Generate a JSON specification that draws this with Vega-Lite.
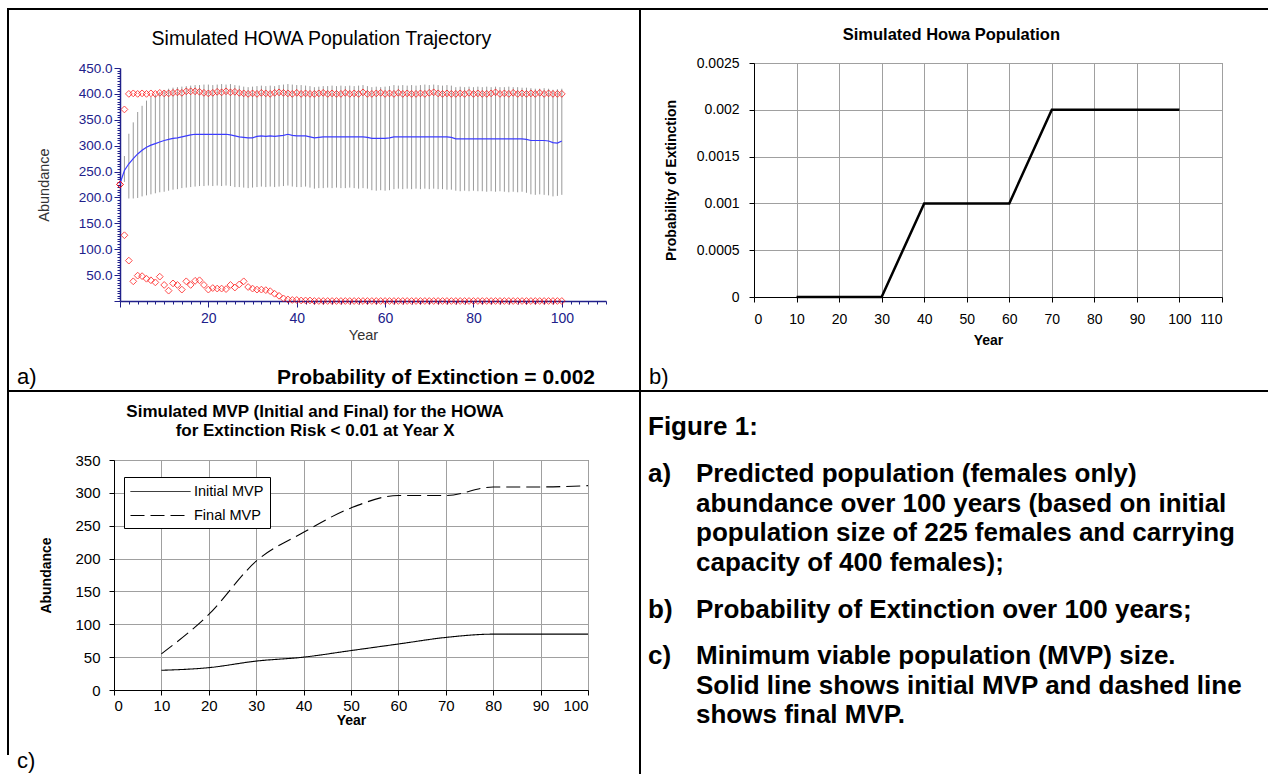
{
"$schema": "https://vega.github.io/schema/vega-lite/v6.json",
"padding": 0,
"background": "white",
"spacing": 0,
"bounds": "full",
"config": {"view": {"stroke": null}, "font": "Liberation Sans", "concat": {"spacing": 0}},
"vconcat": [
{"hconcat": [
{"columns": 5, "align": "each", "bounds": "flush", "spacing": 0, "concat": [
{"width":7,"height":8,"data":{"values":[]},"mark":"point"},
{"width":2,"height":8,"data":{"values":[]},"mark":"point"},
{"width":111,"height":8,"data":{"values":[]},"mark":"point"},
{"width":486,"height":8,"data":{"values":[]},"mark":"point"},
{"width":33,"height":8,"data":{"values":[]},"mark":"point"},

{"width":7,"height":2,"data":{"values":[]},"mark":"point"},
{"width":2,"height":2,"data":{"values":[]},"mark":"point","view":{"fill":"black","stroke":null}},
{"width":111,"height":2,"data":{"values":[]},"mark":"point","view":{"fill":"black","stroke":null}},
{"width":486,"height":2,"data":{"values":[]},"mark":"point","view":{"fill":"black","stroke":null}},
{"width":33,"height":2,"data":{"values":[]},"mark":"point","view":{"fill":"black","stroke":null}},

{"width":7,"height":58,"data":{"values":[]},"mark":"point"},
{"width":2,"height":58,"data":{"values":[]},"mark":"point","view":{"fill":"black","stroke":null}},
{"width":111,"height":58,"data":{"values":[]},"mark":"point"},
{"width":486,"height":58,"data":{"values":[]},"mark":"point"},
{"width":33,"height":58,"data":{"values":[]},"mark":"point"},

{"width":7,"height":233,"data":{"values":[]},"mark":"point"},
{"width":2,"height":233,"data":{"values":[]},"mark":"point","view":{"fill":"black","stroke":null}},
{"width":111,"height":233,"data":{"values":[]},"mark":"point"},
{
 "width": 486, "height": 233,
 "title": {"text": "Simulated HOWA Population Trajectory", "font": "Liberation Sans", "fontSize": 19.5, "fontWeight": "normal", "color": "black", "frame": "bounds", "anchor": "middle", "offset": 12},
 "data": {"values": [
 {"year":0,"mean":227,"lo":225,"hi":225,"min":225,"max":225},
 {"year":1,"mean":252,"lo":230,"hi":280,"min":127,"max":370},
 {"year":2,"mean":265,"lo":198,"hi":323,"min":78,"max":400},
 {"year":3,"mean":275,"lo":198,"hi":345,"min":38,"max":401},
 {"year":4,"mean":284,"lo":199,"hi":365,"min":49,"max":400},
 {"year":5,"mean":291,"lo":202,"hi":377,"min":48,"max":401},
 {"year":6,"mean":297,"lo":204,"hi":387,"min":43,"max":400},
 {"year":7,"mean":301,"lo":206,"hi":394,"min":40,"max":401},
 {"year":8,"mean":304,"lo":208,"hi":399,"min":36,"max":400},
 {"year":9,"mean":307,"lo":210,"hi":404,"min":47,"max":402},
 {"year":10,"mean":310,"lo":211,"hi":407,"min":31,"max":401},
 {"year":11,"mean":312,"lo":213,"hi":410,"min":20,"max":401},
 {"year":12,"mean":314,"lo":215,"hi":412,"min":34,"max":402},
 {"year":13,"mean":315,"lo":216,"hi":413,"min":31,"max":403},
 {"year":14,"mean":317,"lo":218,"hi":414,"min":22,"max":402},
 {"year":15,"mean":319,"lo":219,"hi":415,"min":38,"max":405},
 {"year":16,"mean":321,"lo":220,"hi":416,"min":31,"max":405},
 {"year":17,"mean":322,"lo":221,"hi":417,"min":39,"max":405},
 {"year":18,"mean":322,"lo":222,"hi":417,"min":40,"max":404},
 {"year":19,"mean":322,"lo":222,"hi":418,"min":31,"max":402},
 {"year":20,"mean":322,"lo":223,"hi":418,"min":22,"max":401},
 {"year":21,"mean":322,"lo":222,"hi":417,"min":25,"max":402},
 {"year":22,"mean":322,"lo":223,"hi":418,"min":24,"max":404},
 {"year":23,"mean":322,"lo":222,"hi":419,"min":24,"max":403},
 {"year":24,"mean":322,"lo":223,"hi":418,"min":23,"max":405},
 {"year":25,"mean":321,"lo":222,"hi":419,"min":31,"max":403},
 {"year":26,"mean":319,"lo":220,"hi":417,"min":26,"max":404},
 {"year":27,"mean":317,"lo":220,"hi":416,"min":32,"max":402},
 {"year":28,"mean":316,"lo":219,"hi":414,"min":38,"max":401},
 {"year":29,"mean":315,"lo":218,"hi":413,"min":27,"max":400},
 {"year":30,"mean":315,"lo":219,"hi":414,"min":24,"max":401},
 {"year":31,"mean":318,"lo":220,"hi":415,"min":22,"max":400},
 {"year":32,"mean":319,"lo":221,"hi":416,"min":22,"max":402},
 {"year":33,"mean":318,"lo":220,"hi":415,"min":21,"max":401},
 {"year":34,"mean":319,"lo":221,"hi":416,"min":19,"max":400},
 {"year":35,"mean":318,"lo":220,"hi":415,"min":14,"max":402},
 {"year":36,"mean":319,"lo":221,"hi":417,"min":10,"max":403},
 {"year":37,"mean":320,"lo":222,"hi":418,"min":5,"max":402},
 {"year":38,"mean":322,"lo":223,"hi":419,"min":3,"max":401},
 {"year":39,"mean":320,"lo":221,"hi":418,"min":2,"max":400},
 {"year":40,"mean":319,"lo":220,"hi":417,"min":2,"max":402},
 {"year":41,"mean":319,"lo":220,"hi":417,"min":1,"max":400},
 {"year":42,"mean":319,"lo":221,"hi":416,"min":1,"max":401},
 {"year":43,"mean":317,"lo":219,"hi":415,"min":1,"max":400},
 {"year":44,"mean":315,"lo":217,"hi":413,"min":0,"max":400},
 {"year":45,"mean":316,"lo":218,"hi":414,"min":0,"max":401},
 {"year":46,"mean":317,"lo":218,"hi":415,"min":0,"max":402},
 {"year":47,"mean":317,"lo":219,"hi":415,"min":0,"max":400},
 {"year":48,"mean":317,"lo":218,"hi":416,"min":0,"max":401},
 {"year":49,"mean":317,"lo":219,"hi":415,"min":0,"max":400},
 {"year":50,"mean":317,"lo":218,"hi":416,"min":0,"max":400},
 {"year":51,"mean":317,"lo":218,"hi":415,"min":0,"max":402},
 {"year":52,"mean":317,"lo":219,"hi":416,"min":0,"max":400},
 {"year":53,"mean":317,"lo":218,"hi":415,"min":0,"max":401},
 {"year":54,"mean":317,"lo":217,"hi":416,"min":0,"max":400},
 {"year":55,"mean":317,"lo":218,"hi":417,"min":0,"max":403},
 {"year":56,"mean":316,"lo":217,"hi":415,"min":0,"max":400},
 {"year":57,"mean":314,"lo":214,"hi":413,"min":0,"max":400},
 {"year":58,"mean":314,"lo":213,"hi":414,"min":0,"max":401},
 {"year":59,"mean":314,"lo":214,"hi":413,"min":0,"max":402},
 {"year":60,"mean":314,"lo":213,"hi":414,"min":0,"max":400},
 {"year":61,"mean":315,"lo":214,"hi":415,"min":0,"max":401},
 {"year":62,"mean":317,"lo":216,"hi":417,"min":0,"max":400},
 {"year":63,"mean":317,"lo":217,"hi":416,"min":0,"max":402},
 {"year":64,"mean":317,"lo":216,"hi":417,"min":0,"max":400},
 {"year":65,"mean":317,"lo":217,"hi":416,"min":0,"max":401},
 {"year":66,"mean":317,"lo":216,"hi":417,"min":0,"max":400},
 {"year":67,"mean":317,"lo":217,"hi":416,"min":0,"max":400},
 {"year":68,"mean":317,"lo":216,"hi":417,"min":0,"max":401},
 {"year":69,"mean":317,"lo":217,"hi":418,"min":0,"max":400},
 {"year":70,"mean":317,"lo":216,"hi":417,"min":0,"max":402},
 {"year":71,"mean":317,"lo":217,"hi":418,"min":0,"max":403},
 {"year":72,"mean":317,"lo":216,"hi":417,"min":0,"max":401},
 {"year":73,"mean":317,"lo":216,"hi":416,"min":0,"max":400},
 {"year":74,"mean":317,"lo":215,"hi":417,"min":0,"max":401},
 {"year":75,"mean":316,"lo":215,"hi":416,"min":0,"max":400},
 {"year":76,"mean":313,"lo":213,"hi":413,"min":0,"max":400},
 {"year":77,"mean":313,"lo":212,"hi":414,"min":0,"max":401},
 {"year":78,"mean":313,"lo":213,"hi":413,"min":0,"max":400},
 {"year":79,"mean":313,"lo":212,"hi":414,"min":0,"max":402},
 {"year":80,"mean":313,"lo":213,"hi":413,"min":0,"max":400},
 {"year":81,"mean":313,"lo":212,"hi":414,"min":0,"max":401},
 {"year":82,"mean":313,"lo":212,"hi":413,"min":0,"max":400},
 {"year":83,"mean":313,"lo":211,"hi":414,"min":0,"max":400},
 {"year":84,"mean":313,"lo":212,"hi":413,"min":0,"max":401},
 {"year":85,"mean":313,"lo":211,"hi":414,"min":0,"max":403},
 {"year":86,"mean":313,"lo":212,"hi":413,"min":0,"max":400},
 {"year":87,"mean":313,"lo":211,"hi":413,"min":0,"max":401},
 {"year":88,"mean":313,"lo":210,"hi":414,"min":0,"max":400},
 {"year":89,"mean":313,"lo":211,"hi":413,"min":0,"max":402},
 {"year":90,"mean":313,"lo":210,"hi":413,"min":0,"max":400},
 {"year":91,"mean":313,"lo":211,"hi":412,"min":0,"max":401},
 {"year":92,"mean":312,"lo":209,"hi":412,"min":0,"max":400},
 {"year":93,"mean":310,"lo":206,"hi":411,"min":0,"max":401},
 {"year":94,"mean":310,"lo":205,"hi":410,"min":0,"max":400},
 {"year":95,"mean":310,"lo":206,"hi":410,"min":0,"max":402},
 {"year":96,"mean":310,"lo":205,"hi":411,"min":0,"max":400},
 {"year":97,"mean":309,"lo":204,"hi":410,"min":0,"max":401},
 {"year":98,"mean":306,"lo":202,"hi":408,"min":0,"max":400},
 {"year":99,"mean":305,"lo":203,"hi":409,"min":0,"max":400},
 {"year":100,"mean":309,"lo":205,"hi":410,"min":0,"max":400}
 ]},
 "layer": [
  {"mark": {"type": "rule", "color": "#9a9a9a", "strokeWidth": 1},
   "encoding": {
    "x": {"field": "year", "type": "quantitative", "title": "Year", "scale": {"domain": [0, 110], "nice": false},
      "axis": {"tickCount": 55, "labelExpr": "datum.value % 20 === 0 && datum.value > 0 && datum.value <= 100 ? datum.label : ''", "labelOverlap": false, "labelFlush": false,
        "tickSize": {"condition": {"test": "datum.value % 20 === 0", "value": 6}, "value": 3},
        "domainColor": "#20208a", "domainWidth": 1.5, "tickColor": "#20208a", "labelColor": "#20208a",
        "labelFont": "Liberation Sans", "labelFontSize": 14, "labelPadding": 4,
        "titleFont": "Liberation Sans", "titleFontSize": 14.5, "titleFontWeight": "normal", "titleColor": "#333333", "titlePadding": 3, "grid": false}},
    "y": {"field": "lo", "type": "quantitative", "title": "Abundance", "scale": {"domain": [0, 450], "nice": false},
      "axis": {"tickCount": 90, "labelExpr": "datum.value % 50 === 0 && datum.value > 0 ? format(datum.value, '.1f') : ''", "labelOverlap": false, "labelFlush": false,
        "tickSize": {"condition": {"test": "datum.value % 50 === 0", "value": 6}, "value": 3},
        "domainColor": "#20208a", "domainWidth": 1.5, "tickColor": "#20208a", "labelColor": "#20208a",
        "labelFont": "Liberation Sans", "labelFontSize": 13.5, "labelPadding": 2,
        "titleFont": "Liberation Sans", "titleFontSize": 14.5, "titleFontWeight": "normal", "titleColor": "#333333", "titlePadding": 27, "grid": false}},
    "y2": {"field": "hi"}
   }},
  {"mark": {"type": "line", "color": "#3c3cff", "strokeWidth": 1.2},
   "encoding": {"x": {"field": "year", "type": "quantitative", "title": "Year"}, "y": {"field": "mean", "type": "quantitative", "title": "Abundance"}}},
  {"mark": {"type": "point", "shape": "diamond", "filled": false, "color": "#ff0000", "size": 46, "strokeWidth": 1},
   "encoding": {"x": {"field": "year", "type": "quantitative", "title": "Year"}, "y": {"field": "max", "type": "quantitative", "title": "Abundance"}}},
  {"mark": {"type": "point", "shape": "diamond", "filled": false, "color": "#ff0000", "size": 46, "strokeWidth": 1},
   "encoding": {"x": {"field": "year", "type": "quantitative", "title": "Year"}, "y": {"field": "min", "type": "quantitative", "title": "Abundance"}}}
 ]
},
{"width":33,"height":233,"data":{"values":[]},"mark":"point"},

{"width":7,"height":82,"data":{"values":[]},"mark":"point"},
{"width":2,"height":82,"data":{"values":[]},"mark":"point","view":{"fill":"black","stroke":null}},
{"width":111,"height":82,"data":{"values":[]},"mark":"point"},
{"width":486,"height":82,"data":{"values":[]},"mark":"point"},
{"width":33,"height":82,"data":{"values":[]},"mark":"point"},

{"width":7,"height":7,"data":{"values":[]},"mark":"point"},
{"width":2,"height":7,"data":{"values":[]},"mark":"point","view":{"fill":"black","stroke":null}},
{"width":16,"height":2,"data":{"values":[{}]},"mark":{"type":"text","align":"left","baseline":"alphabetic","font":"Liberation Sans","fontSize":22,"color":"black"},"encoding":{"text":{"value":"a)"}}},
{"width":314,"height":2,"data":{"values":[{}]},"mark":{"type":"text","align":"left","baseline":"alphabetic","font":"Liberation Sans","fontSize":21,"fontWeight":"bold","color":"black"},"encoding":{"text":{"value":"Probability of Extinction = 0.002"}}},
{"width":33,"height":7,"data":{"values":[]},"mark":"point"}
]},
{"columns": 4, "align": "each", "bounds": "flush", "spacing": 0, "concat": [
{"width":2,"height":8,"data":{"values":[]},"mark":"point"},
{"width":113,"height":8,"data":{"values":[]},"mark":"point"},
{"width":468,"height":8,"data":{"values":[]},"mark":"point"},
{"width":46,"height":8,"data":{"values":[]},"mark":"point"},

{"width":2,"height":2,"data":{"values":[]},"mark":"point","view":{"fill":"black","stroke":null}},
{"width":113,"height":2,"data":{"values":[]},"mark":"point","view":{"fill":"black","stroke":null}},
{"width":468,"height":2,"data":{"values":[]},"mark":"point","view":{"fill":"black","stroke":null}},
{"width":46,"height":2,"data":{"values":[]},"mark":"point","view":{"fill":"black","stroke":null}},

{"width":2,"height":53,"data":{"values":[]},"mark":"point","view":{"fill":"black","stroke":null}},
{"width":113,"height":53,"data":{"values":[]},"mark":"point"},
{"width":468,"height":53,"data":{"values":[]},"mark":"point"},
{"width":46,"height":53,"data":{"values":[]},"mark":"point"},

{"width":2,"height":234,"data":{"values":[]},"mark":"point","view":{"fill":"black","stroke":null}},
{"width":113,"height":234,"data":{"values":[]},"mark":"point"},
{
 "width": 468, "height": 234,
 "view": {"stroke": "#808080"},
 "title": {"text": "Simulated Howa Population", "fontSize": 16.5, "fontWeight": "bold", "font": "Liberation Sans", "color": "black", "frame": "bounds", "anchor": "middle", "offset": 13, "dx": 8},
 "data": {"values": [
  {"year":10,"p":0},{"year":20,"p":0},{"year":30,"p":0},{"year":40,"p":0.001},{"year":50,"p":0.001},
  {"year":60,"p":0.001},{"year":70,"p":0.002},{"year":80,"p":0.002},{"year":90,"p":0.002},{"year":100,"p":0.002}
 ]},
 "mark": {"type": "line", "color": "black", "strokeWidth": 2.5},
 "encoding": {
  "x": {"field": "year", "type": "quantitative", "title": "Year", "scale": {"domain": [0, 110], "nice": false},
   "axis": {"tickCount": 11, "grid": true, "gridColor": "#a0a0a0", "domainColor": "black", "tickColor": "black", "tickSize": 5, "labelColor": "black", "labelFontSize": 14, "labelPadding": 10, "titleFontSize": 14, "titleFontWeight": "bold", "titleColor": "black", "titlePadding": 7}},
  "y": {"field": "p", "type": "quantitative", "title": "Probability of Extinction", "scale": {"domain": [0, 0.0025], "nice": false},
   "axis": {"tickCount": 5, "format": "~g", "grid": true, "gridColor": "#a0a0a0", "domainColor": "black", "tickColor": "black", "tickSize": 5, "labelColor": "black", "labelFontSize": 14, "labelPadding": 10, "titleFontSize": 14, "titleFontWeight": "bold", "titleColor": "black", "titlePadding": 18}}
 }
},
{"width":46,"height":234,"data":{"values":[]},"mark":"point"},

{"width":2,"height":86,"data":{"values":[]},"mark":"point","view":{"fill":"black","stroke":null}},
{"width":113,"height":86,"data":{"values":[]},"mark":"point"},
{"width":468,"height":86,"data":{"values":[]},"mark":"point"},
{"width":46,"height":86,"data":{"values":[]},"mark":"point"},

{"width":2,"height":7,"data":{"values":[]},"mark":"point","view":{"fill":"black","stroke":null}},
{"width":16,"height":2,"data":{"values":[{}]},"mark":{"type":"text","align":"left","baseline":"alphabetic","font":"Liberation Sans","fontSize":22,"color":"black"},"encoding":{"text":{"value":"b)"}}},
{"width":468,"height":7,"data":{"values":[]},"mark":"point"},
{"width":46,"height":7,"data":{"values":[]},"mark":"point"}
]}
], "spacing": 0, "bounds": "full"},
{"hconcat": [
{"columns": 5, "align": "each", "bounds": "flush", "spacing": 0, "concat": [
{"width":7,"height":2,"data":{"values":[]},"mark":"point"},
{"width":2,"height":2,"data":{"values":[]},"mark":"point","view":{"fill":"black","stroke":null}},
{"width":105,"height":2,"data":{"values":[]},"mark":"point","view":{"fill":"black","stroke":null}},
{"width":474,"height":2,"data":{"values":[]},"mark":"point","view":{"fill":"black","stroke":null}},
{"width":51,"height":2,"data":{"values":[]},"mark":"point","view":{"fill":"black","stroke":null}},

{"width":7,"height":68,"data":{"values":[]},"mark":"point"},
{"width":2,"height":68,"data":{"values":[]},"mark":"point","view":{"fill":"black","stroke":null}},
{"width":105,"height":68,"data":{"values":[]},"mark":"point"},
{"width":474,"height":68,"data":{"values":[]},"mark":"point"},
{"width":51,"height":68,"data":{"values":[]},"mark":"point"},

{"width":7,"height":230,"data":{"values":[]},"mark":"point"},
{"width":2,"height":230,"data":{"values":[]},"mark":"point","view":{"fill":"black","stroke":null}},
{"width":105,"height":230,"data":{"values":[]},"mark":"point"},
{
 "width": 474, "height": 230,
 "view": {"stroke": "#555555"},
 "title": {"text": ["Simulated MVP (Initial and Final) for the HOWA", "for Extinction Risk < 0.01 at Year X"], "fontSize": 17, "fontWeight": "bold", "font": "Liberation Sans", "color": "black", "frame": "bounds", "anchor": "middle", "lineHeight": 19, "offset": 13},
 "data": {"values": [
  {"year":10,"series":"Initial MVP","value":30},{"year":20,"series":"Initial MVP","value":34},{"year":30,"series":"Initial MVP","value":44},
  {"year":40,"series":"Initial MVP","value":50},{"year":50,"series":"Initial MVP","value":60},{"year":60,"series":"Initial MVP","value":70},
  {"year":70,"series":"Initial MVP","value":80},{"year":80,"series":"Initial MVP","value":85},{"year":90,"series":"Initial MVP","value":85},
  {"year":100,"series":"Initial MVP","value":85},
  {"year":10,"series":"Final MVP","value":55},{"year":20,"series":"Final MVP","value":115},{"year":30,"series":"Final MVP","value":196},
  {"year":40,"series":"Final MVP","value":240},{"year":50,"series":"Final MVP","value":277},{"year":60,"series":"Final MVP","value":296},
  {"year":70,"series":"Final MVP","value":296},{"year":80,"series":"Final MVP","value":309},{"year":90,"series":"Final MVP","value":309},
  {"year":100,"series":"Final MVP","value":311}
 ]},
 "mark": {"type": "line", "color": "black", "strokeWidth": 1.1, "interpolate": "monotone"},
 "encoding": {
  "x": {"field": "year", "type": "quantitative", "title": "Year", "scale": {"domain": [0, 100], "nice": false},
   "axis": {"tickCount": 10, "grid": true, "gridColor": "#a0a0a0", "domainColor": "black", "tickColor": "black", "tickSize": 5, "labelColor": "black", "labelFontSize": 15, "labelPadding": 3, "titleFontSize": 14, "titleFontWeight": "bold", "titleColor": "black", "titlePadding": 0}},
  "y": {"field": "value", "type": "quantitative", "title": "Abundance", "scale": {"domain": [0, 350], "nice": false},
   "axis": {"tickCount": 7, "grid": true, "gridColor": "#a0a0a0", "domainColor": "black", "tickColor": "black", "tickSize": 5, "labelColor": "black", "labelFontSize": 15, "labelPadding": 9, "titleFontSize": 14, "titleFontWeight": "bold", "titleColor": "black", "titlePadding": 21}},
  "strokeDash": {"field": "series", "type": "nominal", "scale": {"domain": ["Initial MVP", "Final MVP"], "range": [[1, 0], [14, 6]]},
   "legend": {"title": null, "orient": "none", "legendX": 124, "legendY": 477, "direction": "vertical", "symbolType": "M-1,0H6.5", "symbolSize": 256, "symbolStrokeWidth": 1, "symbolStrokeColor": "black", "symbolFillColor": "transparent", "labelFontSize": 14.5, "labelFont": "Liberation Sans", "labelColor": "black", "labelOffset": 47, "strokeColor": "black", "fillColor": "white", "padding": 6, "rowPadding": 9}}
 }
},
{"width":51,"height":230,"data":{"values":[]},"mark":"point"},

{"width":7,"height":65,"data":{"values":[]},"mark":"point"},
{"width":2,"height":65,"data":{"values":[]},"mark":"point","view":{"fill":"black","stroke":null}},
{"width":105,"height":65,"data":{"values":[]},"mark":"point"},
{"width":474,"height":65,"data":{"values":[]},"mark":"point"},
{"width":51,"height":65,"data":{"values":[]},"mark":"point"},

{"width":7,"height":12,"data":{"values":[]},"mark":"point"},
{"width":2,"height":12,"data":{"values":[]},"mark":"point"},
{"width":105,"height":12,"data":{"values":[]},"mark":"point"},
{"width":474,"height":12,"data":{"values":[]},"mark":"point"},
{"width":51,"height":12,"data":{"values":[]},"mark":"point"},

{"width":7,"height":7,"data":{"values":[]},"mark":"point"},
{"width":2,"height":7,"data":{"values":[]},"mark":"point"},
{"width":16,"height":2,"data":{"values":[{}]},"mark":{"type":"text","align":"left","baseline":"alphabetic","font":"Liberation Sans","fontSize":22,"color":"black"},"encoding":{"text":{"value":"c)"}}},
{"width":474,"height":7,"data":{"values":[]},"mark":"point"},
{"width":51,"height":7,"data":{"values":[]},"mark":"point"}
]},
{"columns": 4, "align": "each", "bounds": "flush", "spacing": 0, "concat": [
{"width":2,"height":2,"data":{"values":[]},"mark":"point","view":{"fill":"black","stroke":null}},
{"width":14,"height":2,"data":{"values":[]},"mark":"point","view":{"fill":"black","stroke":null}},
{"width":82,"height":2,"data":{"values":[]},"mark":"point","view":{"fill":"black","stroke":null}},
{"width":531,"height":2,"data":{"values":[]},"mark":"point","view":{"fill":"black","stroke":null}},

{"width":2,"height":42,"data":{"values":[]},"mark":"point","view":{"fill":"black","stroke":null}},
{"width":14,"height":42,"data":{"values":[]},"mark":"point"},
{"width":82,"height":42,"data":{"values":[]},"mark":"point"},
{"width":531,"height":42,"data":{"values":[]},"mark":"point"},

{"width":2,"height":2,"data":{"values":[]},"mark":"point","view":{"fill":"black","stroke":null}},
{"width":14,"height":2,"data":{"values":[{}]},"mark":{"type":"text","align":"left","baseline":"alphabetic","font":"Liberation Sans","fontSize":26,"fontWeight":"bold","color":"black"},"encoding":{"text":{"value":"Figure 1:"}}},
{"width":82,"height":2,"data":{"values":[]},"mark":"point"},
{"width":531,"height":2,"data":{"values":[]},"mark":"point"},

{"width":2,"height":45,"data":{"values":[]},"mark":"point","view":{"fill":"black","stroke":null}},
{"width":14,"height":45,"data":{"values":[]},"mark":"point"},
{"width":82,"height":45,"data":{"values":[]},"mark":"point"},
{"width":531,"height":45,"data":{"values":[]},"mark":"point"},

{"width":2,"height":2,"data":{"values":[]},"mark":"point","view":{"fill":"black","stroke":null}},
{"width":14,"height":2,"data":{"values":[{}]},"mark":{"type":"text","align":"left","baseline":"alphabetic","font":"Liberation Sans","fontSize":26,"fontWeight":"bold","color":"black"},"encoding":{"text":{"value":"a)"}}},
{"width":82,"height":2,"data":{"values":[{}]},"mark":{"type":"text","align":"left","baseline":"alphabetic","font":"Liberation Sans","fontSize":26,"fontWeight":"bold","lineHeight":29.5,"color":"black"},"encoding":{"text":{"value":["Predicted population (females only)","abundance over 100 years (based on initial","population size of 225 females and carrying","capacity of 400 females);"]}}},
{"width":531,"height":2,"data":{"values":[]},"mark":"point"},

{"width":2,"height":134,"data":{"values":[]},"mark":"point","view":{"fill":"black","stroke":null}},
{"width":14,"height":134,"data":{"values":[]},"mark":"point"},
{"width":82,"height":134,"data":{"values":[]},"mark":"point"},
{"width":531,"height":134,"data":{"values":[]},"mark":"point"},

{"width":2,"height":2,"data":{"values":[]},"mark":"point","view":{"fill":"black","stroke":null}},
{"width":14,"height":2,"data":{"values":[{}]},"mark":{"type":"text","align":"left","baseline":"alphabetic","font":"Liberation Sans","fontSize":26,"fontWeight":"bold","color":"black"},"encoding":{"text":{"value":"b)"}}},
{"width":82,"height":2,"data":{"values":[{}]},"mark":{"type":"text","align":"left","baseline":"alphabetic","font":"Liberation Sans","fontSize":26,"fontWeight":"bold","color":"black"},"encoding":{"text":{"value":"Probability of Extinction over 100 years;"}}},
{"width":531,"height":2,"data":{"values":[]},"mark":"point"},

{"width":2,"height":44,"data":{"values":[]},"mark":"point","view":{"fill":"black","stroke":null}},
{"width":14,"height":44,"data":{"values":[]},"mark":"point"},
{"width":82,"height":44,"data":{"values":[]},"mark":"point"},
{"width":531,"height":44,"data":{"values":[]},"mark":"point"},

{"width":2,"height":2,"data":{"values":[]},"mark":"point","view":{"fill":"black","stroke":null}},
{"width":14,"height":2,"data":{"values":[{}]},"mark":{"type":"text","align":"left","baseline":"alphabetic","font":"Liberation Sans","fontSize":26,"fontWeight":"bold","color":"black"},"encoding":{"text":{"value":"c)"}}},
{"width":82,"height":2,"data":{"values":[{}]},"mark":{"type":"text","align":"left","baseline":"alphabetic","font":"Liberation Sans","fontSize":26,"fontWeight":"bold","lineHeight":29.5,"color":"black"},"encoding":{"text":{"value":["Minimum viable population (MVP) size.","Solid line shows initial MVP and dashed line","shows final MVP."]}}},
{"width":531,"height":2,"data":{"values":[]},"mark":"point"},

{"width":2,"height":109,"data":{"values":[]},"mark":"point","view":{"fill":"black","stroke":null}},
{"width":14,"height":109,"data":{"values":[]},"mark":"point"},
{"width":82,"height":109,"data":{"values":[]},"mark":"point"},
{"width":531,"height":109,"data":{"values":[]},"mark":"point"}
]}
], "spacing": 0, "bounds": "full"}
]
}
